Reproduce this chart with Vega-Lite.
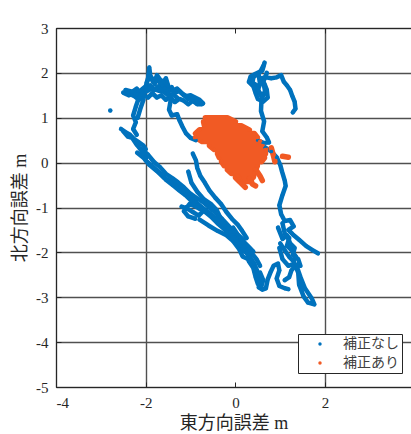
{
"$schema": "https://vega.github.io/schema/vega-lite/v6.json",
"width": 355, "height": 359,
"autosize": {"type": "none"},
"padding": {"left": 56, "top": 28, "right": 0, "bottom": 47},
"background": "white",
"config": {
 "view": {"stroke": null},
 "axis": {"labelFont": "Liberation Serif", "labelFontSize": 15, "labelColor": "#262626", "titleFont": "Liberation Serif, Noto Sans CJK JP", "titleFontSize": 18, "titleFontWeight": "normal", "titleColor": "#262626", "domainColor": "#262626", "domainWidth": 1, "tickColor": "#262626", "tickSize": -5, "labelPadding": 13, "gridColor": "#505050", "gridWidth": 1.4, "gridOpacity": 1},
 "legend": {"orient": "none", "legendX": 242, "legendY": 306, "strokeColor": "#262626", "fillColor": "white", "padding": 3, "symbolType": "circle", "symbolSize": 12, "symbolStrokeWidth": 0, "labelFont": "Noto Sans CJK JP", "labelFontSize": 14, "labelColor": "#404040", "labelOffset": 16, "symbolOffset": 12, "rowPadding": 5, "labelLimit": 200, "cornerRadius": 0}
},
"data": {"values": [
{"k":"補正なし","g":"b1","x":-2.50,"y":1.56},{"k":"補正なし","g":"b1","x":-2.38,"y":1.50},{"k":"補正なし","g":"b1","x":-2.25,"y":1.55},{"k":"補正なし","g":"b1","x":-2.12,"y":1.60},{"k":"補正なし","g":"b1","x":-2.00,"y":1.70},{"k":"補正なし","g":"b1","x":-1.95,"y":1.85},{"k":"補正なし","g":"b1","x":-1.92,"y":2.12},{"k":"補正なし","g":"b1","x":-1.90,"y":1.95},{"k":"補正なし","g":"b1","x":-1.84,"y":1.80},{"k":"補正なし","g":"b1","x":-1.78,"y":1.88},{"k":"補正なし","g":"b1","x":-1.70,"y":1.80},{"k":"補正なし","g":"b1","x":-1.62,"y":1.70},{"k":"補正なし","g":"b1","x":-1.55,"y":1.78},{"k":"補正なし","g":"b1","x":-1.48,"y":1.62},{"k":"補正なし","g":"b1","x":-1.40,"y":1.60},{"k":"補正なし","g":"b1","x":-1.30,"y":1.65},{"k":"補正なし","g":"b1","x":-1.20,"y":1.55},{"k":"補正なし","g":"b1","x":-1.10,"y":1.48},{"k":"補正なし","g":"b1","x":-1.00,"y":1.50},{"k":"補正なし","g":"b1","x":-0.90,"y":1.45},{"k":"補正なし","g":"b1","x":-0.80,"y":1.40},{"k":"補正なし","g":"b1","x":-0.72,"y":1.32},
{"k":"補正なし","g":"b2","x":-0.75,"y":1.30},{"k":"補正なし","g":"b2","x":-0.85,"y":1.30},{"k":"補正なし","g":"b2","x":-0.95,"y":1.38},{"k":"補正なし","g":"b2","x":-1.05,"y":1.30},{"k":"補正なし","g":"b2","x":-1.15,"y":1.38},{"k":"補正なし","g":"b2","x":-1.25,"y":1.42},{"k":"補正なし","g":"b2","x":-1.35,"y":1.35},{"k":"補正なし","g":"b2","x":-1.45,"y":1.45},{"k":"補正なし","g":"b2","x":-1.55,"y":1.40},{"k":"補正なし","g":"b2","x":-1.65,"y":1.50},{"k":"補正なし","g":"b2","x":-1.75,"y":1.45},{"k":"補正なし","g":"b2","x":-1.85,"y":1.55},{"k":"補正なし","g":"b2","x":-1.95,"y":1.45},{"k":"補正なし","g":"b2","x":-2.05,"y":1.50},{"k":"補正なし","g":"b2","x":-2.15,"y":1.40},{"k":"補正なし","g":"b2","x":-2.25,"y":1.48},{"k":"補正なし","g":"b2","x":-2.40,"y":1.55},
{"k":"補正なし","g":"b3","x":-2.20,"y":1.52},{"k":"補正なし","g":"b3","x":-2.00,"y":1.58},{"k":"補正なし","g":"b3","x":-1.85,"y":1.65},{"k":"補正なし","g":"b3","x":-1.70,"y":1.60},{"k":"補正なし","g":"b3","x":-1.60,"y":1.58},{"k":"補正なし","g":"b3","x":-1.50,"y":1.50},{"k":"補正なし","g":"b3","x":-1.40,"y":1.52},{"k":"補正なし","g":"b3","x":-1.30,"y":1.45},
{"k":"補正なし","g":"b4","x":-2.15,"y":1.45},{"k":"補正なし","g":"b4","x":-2.22,"y":1.25},{"k":"補正なし","g":"b4","x":-2.28,"y":1.05},{"k":"補正なし","g":"b4","x":-2.22,"y":0.90},{"k":"補正なし","g":"b4","x":-2.28,"y":0.75},{"k":"補正なし","g":"b4","x":-2.20,"y":0.62},
{"k":"補正なし","g":"b5","x":-2.05,"y":1.40},{"k":"補正なし","g":"b5","x":-2.12,"y":1.20},{"k":"補正なし","g":"b5","x":-2.18,"y":1.00},
{"k":"補正なし","g":"b6","x":-1.45,"y":1.35},{"k":"補正なし","g":"b6","x":-1.48,"y":1.18},{"k":"補正なし","g":"b6","x":-1.42,"y":1.05},{"k":"補正なし","g":"b6","x":-1.30,"y":1.08},{"k":"補正なし","g":"b6","x":-1.25,"y":0.95},{"k":"補正なし","g":"b6","x":-1.18,"y":0.80},{"k":"補正なし","g":"b6","x":-1.10,"y":0.65},{"k":"補正なし","g":"b6","x":-1.00,"y":0.55},{"k":"補正なし","g":"b6","x":-0.88,"y":0.50},
{"k":"補正なし","g":"b7","x":-2.55,"y":0.75},{"k":"補正なし","g":"b7","x":-2.45,"y":0.68},{"k":"補正なし","g":"b7","x":-2.35,"y":0.62},{"k":"補正なし","g":"b7","x":-2.25,"y":0.52},{"k":"補正なし","g":"b7","x":-2.15,"y":0.45},{"k":"補正なし","g":"b7","x":-2.05,"y":0.38},{"k":"補正なし","g":"b7","x":-2.00,"y":0.30},
{"k":"補正なし","g":"b8","x":-2.19,"y":0.22},{"k":"補正なし","g":"b8","x":-2.05,"y":0.11},{"k":"補正なし","g":"b8","x":-1.92,"y":-0.05},{"k":"補正なし","g":"b8","x":-1.76,"y":-0.18},{"k":"補正なし","g":"b8","x":-1.60,"y":-0.33},{"k":"補正なし","g":"b8","x":-1.45,"y":-0.42},{"k":"補正なし","g":"b8","x":-1.30,"y":-0.52},{"k":"補正なし","g":"b8","x":-1.15,"y":-0.62},{"k":"補正なし","g":"b8","x":-1.00,"y":-0.75},{"k":"補正なし","g":"b8","x":-0.88,"y":-0.88},{"k":"補正なし","g":"b8","x":-0.74,"y":-1.00},{"k":"補正なし","g":"b8","x":-0.58,"y":-1.12},{"k":"補正なし","g":"b8","x":-0.42,"y":-1.25},{"k":"補正なし","g":"b8","x":-0.27,"y":-1.38},{"k":"補正なし","g":"b8","x":-0.12,"y":-1.55},{"k":"補正なし","g":"b8","x":0.04,"y":-1.70},{"k":"補正なし","g":"b8","x":0.20,"y":-1.86},{"k":"補正なし","g":"b8","x":0.35,"y":-2.00},{"k":"補正なし","g":"b8","x":0.47,"y":-2.15},{"k":"補正なし","g":"b8","x":0.55,"y":-2.30},
{"k":"補正なし","g":"b9","x":-2.10,"y":0.30},{"k":"補正なし","g":"b9","x":-1.95,"y":0.18},{"k":"補正なし","g":"b9","x":-1.82,"y":0.02},{"k":"補正なし","g":"b9","x":-1.68,"y":-0.10},{"k":"補正なし","g":"b9","x":-1.55,"y":-0.25},{"k":"補正なし","g":"b9","x":-1.40,"y":-0.35},{"k":"補正なし","g":"b9","x":-1.28,"y":-0.44},{"k":"補正なし","g":"b9","x":-1.15,"y":-0.55},{"k":"補正なし","g":"b9","x":-1.02,"y":-0.68},{"k":"補正なし","g":"b9","x":-0.88,"y":-0.78},{"k":"補正なし","g":"b9","x":-0.72,"y":-0.88},{"k":"補正なし","g":"b9","x":-0.58,"y":-1.00},{"k":"補正なし","g":"b9","x":-0.44,"y":-1.12},{"k":"補正なし","g":"b9","x":-0.30,"y":-1.25},{"k":"補正なし","g":"b9","x":-0.16,"y":-1.40},{"k":"補正なし","g":"b9","x":-0.02,"y":-1.55},{"k":"補正なし","g":"b9","x":0.12,"y":-1.70},{"k":"補正なし","g":"b9","x":0.27,"y":-1.85},{"k":"補正なし","g":"b9","x":0.40,"y":-1.98},
{"k":"補正なし","g":"b10","x":-0.95,"y":0.20},{"k":"補正なし","g":"b10","x":-0.88,"y":0.05},{"k":"補正なし","g":"b10","x":-0.85,"y":-0.12},{"k":"補正なし","g":"b10","x":-0.78,"y":-0.30},{"k":"補正なし","g":"b10","x":-0.68,"y":-0.45},{"k":"補正なし","g":"b10","x":-0.58,"y":-0.62},{"k":"補正なし","g":"b10","x":-0.45,"y":-0.78},{"k":"補正なし","g":"b10","x":-0.32,"y":-0.92},{"k":"補正なし","g":"b10","x":-0.20,"y":-1.10},{"k":"補正なし","g":"b10","x":-0.08,"y":-1.25},{"k":"補正なし","g":"b10","x":0.05,"y":-1.38},{"k":"補正なし","g":"b10","x":0.15,"y":-1.52},{"k":"補正なし","g":"b10","x":0.25,"y":-1.68},
{"k":"補正なし","g":"b11","x":-1.05,"y":-0.20},{"k":"補正なし","g":"b11","x":-0.98,"y":-0.45},{"k":"補正なし","g":"b11","x":-0.85,"y":-0.65},{"k":"補正なし","g":"b11","x":-0.70,"y":-0.82},{"k":"補正なし","g":"b11","x":-0.55,"y":-0.92},{"k":"補正なし","g":"b11","x":-0.42,"y":-1.05},{"k":"補正なし","g":"b11","x":-0.35,"y":-1.20},
{"k":"補正なし","g":"b12","x":-1.20,"y":-0.98},{"k":"補正なし","g":"b12","x":-1.08,"y":-1.02},{"k":"補正なし","g":"b12","x":-0.95,"y":-1.10},{"k":"補正なし","g":"b12","x":-0.82,"y":-1.18},{"k":"補正なし","g":"b12","x":-0.72,"y":-1.08},{"k":"補正なし","g":"b12","x":-0.88,"y":-0.98},{"k":"補正なし","g":"b12","x":-1.02,"y":-0.92},{"k":"補正なし","g":"b12","x":-1.15,"y":-1.08},{"k":"補正なし","g":"b12","x":-1.05,"y":-1.20},{"k":"補正なし","g":"b12","x":-0.90,"y":-1.25},
{"k":"補正なし","g":"b13","x":-0.80,"y":-1.27},{"k":"補正なし","g":"b13","x":-0.60,"y":-1.40},{"k":"補正なし","g":"b13","x":-0.40,"y":-1.52},{"k":"補正なし","g":"b13","x":-0.20,"y":-1.62},{"k":"補正なし","g":"b13","x":-0.05,"y":-1.75},{"k":"補正なし","g":"b13","x":0.08,"y":-1.92},{"k":"補正なし","g":"b13","x":0.16,"y":-2.09},{"k":"補正なし","g":"b13","x":0.28,"y":-2.15},{"k":"補正なし","g":"b13","x":0.38,"y":-2.25},{"k":"補正なし","g":"b13","x":0.47,"y":-2.40},{"k":"補正なし","g":"b13","x":0.55,"y":-2.60},{"k":"補正なし","g":"b13","x":0.52,"y":-2.78},{"k":"補正なし","g":"b13","x":0.60,"y":-2.83},{"k":"補正なし","g":"b13","x":0.68,"y":-2.80},{"k":"補正なし","g":"b13","x":0.72,"y":-2.60},{"k":"補正なし","g":"b13","x":0.78,"y":-2.45},{"k":"補正なし","g":"b13","x":0.85,"y":-2.30},{"k":"補正なし","g":"b13","x":0.95,"y":-2.25},{"k":"補正なし","g":"b13","x":0.98,"y":-2.40},{"k":"補正なし","g":"b13","x":0.92,"y":-2.58},{"k":"補正なし","g":"b13","x":0.98,"y":-2.75},{"k":"補正なし","g":"b13","x":1.10,"y":-2.80},{"k":"補正なし","g":"b13","x":1.18,"y":-2.82},
{"k":"補正なし","g":"b14","x":0.98,"y":-1.90},{"k":"補正なし","g":"b14","x":1.05,"y":-2.15},{"k":"補正なし","g":"b14","x":1.18,"y":-2.30},{"k":"補正なし","g":"b14","x":1.32,"y":-2.25},{"k":"補正なし","g":"b14","x":1.40,"y":-2.45},{"k":"補正なし","g":"b14","x":1.42,"y":-2.72},{"k":"補正なし","g":"b14","x":1.52,"y":-2.98},{"k":"補正なし","g":"b14","x":1.62,"y":-3.12},{"k":"補正なし","g":"b14","x":1.76,"y":-3.16},{"k":"補正なし","g":"b14","x":1.70,"y":-3.02},{"k":"補正なし","g":"b14","x":1.55,"y":-2.80},{"k":"補正なし","g":"b14","x":1.45,"y":-2.55},{"k":"補正なし","g":"b14","x":1.38,"y":-2.35},
{"k":"補正なし","g":"b15","x":0.58,"y":1.36},{"k":"補正なし","g":"b15","x":0.57,"y":1.15},{"k":"補正なし","g":"b15","x":0.64,"y":0.92},{"k":"補正なし","g":"b15","x":0.60,"y":0.70},{"k":"補正なし","g":"b15","x":0.70,"y":0.56},{"k":"補正なし","g":"b15","x":0.75,"y":0.45},{"k":"補正なし","g":"b15","x":0.62,"y":0.44},{"k":"補正なし","g":"b15","x":0.50,"y":0.50},{"k":"補正なし","g":"b15","x":0.66,"y":0.34},{"k":"補正なし","g":"b15","x":0.80,"y":0.25},{"k":"補正なし","g":"b15","x":0.92,"y":0.12},{"k":"補正なし","g":"b15","x":1.00,"y":-0.05},{"k":"補正なし","g":"b15","x":1.04,"y":-0.20},{"k":"補正なし","g":"b15","x":1.10,"y":-0.40},{"k":"補正なし","g":"b15","x":1.12,"y":-0.52},{"k":"補正なし","g":"b15","x":1.05,"y":-0.72},{"k":"補正なし","g":"b15","x":0.98,"y":-0.95},{"k":"補正なし","g":"b15","x":1.02,"y":-1.15},{"k":"補正なし","g":"b15","x":1.10,"y":-1.30},{"k":"補正なし","g":"b15","x":1.22,"y":-1.28},{"k":"補正なし","g":"b15","x":1.30,"y":-1.42},{"k":"補正なし","g":"b15","x":1.18,"y":-1.50},{"k":"補正なし","g":"b15","x":1.28,"y":-1.60},{"k":"補正なし","g":"b15","x":1.42,"y":-1.72},{"k":"補正なし","g":"b15","x":1.58,"y":-1.86},{"k":"補正なし","g":"b15","x":1.72,"y":-1.95},{"k":"補正なし","g":"b15","x":1.84,"y":-2.02},
{"k":"補正なし","g":"b16","x":0.65,"y":2.23},{"k":"補正なし","g":"b16","x":0.60,"y":2.05},{"k":"補正なし","g":"b16","x":0.45,"y":1.98},{"k":"補正なし","g":"b16","x":0.34,"y":1.92},{"k":"補正なし","g":"b16","x":0.30,"y":1.80},{"k":"補正なし","g":"b16","x":0.40,"y":1.70},{"k":"補正なし","g":"b16","x":0.45,"y":1.55},{"k":"補正なし","g":"b16","x":0.50,"y":1.42},{"k":"補正なし","g":"b16","x":0.62,"y":1.36},{"k":"補正なし","g":"b16","x":0.72,"y":1.45},{"k":"補正なし","g":"b16","x":0.70,"y":1.62},{"k":"補正なし","g":"b16","x":0.65,"y":1.75},{"k":"補正なし","g":"b16","x":0.58,"y":1.88},{"k":"補正なし","g":"b16","x":0.68,"y":1.90},{"k":"補正なし","g":"b16","x":0.80,"y":1.88},{"k":"補正なし","g":"b16","x":0.92,"y":1.90},{"k":"補正なし","g":"b16","x":1.02,"y":1.95},{"k":"補正なし","g":"b16","x":1.08,"y":1.80},{"k":"補正なし","g":"b16","x":1.15,"y":1.72},{"k":"補正なし","g":"b16","x":1.22,"y":1.62},{"k":"補正なし","g":"b16","x":1.27,"y":1.48},{"k":"補正なし","g":"b16","x":1.32,"y":1.36},{"k":"補正なし","g":"b16","x":1.34,"y":1.20},{"k":"補正なし","g":"b16","x":1.28,"y":1.12},
{"k":"補正なし","g":"b17","x":0.52,"y":1.95},{"k":"補正なし","g":"b17","x":0.55,"y":1.75},{"k":"補正なし","g":"b17","x":0.50,"y":1.62},{"k":"補正なし","g":"b17","x":0.58,"y":1.50},{"k":"補正なし","g":"b17","x":0.68,"y":1.55},
{"k":"補正なし","g":"b18","x":1.05,"y":-1.35},{"k":"補正なし","g":"b18","x":1.10,"y":-1.58},{"k":"補正なし","g":"b18","x":1.20,"y":-1.68},{"k":"補正なし","g":"b18","x":1.15,"y":-1.85},{"k":"補正なし","g":"b18","x":1.25,"y":-1.95},{"k":"補正なし","g":"b18","x":1.35,"y":-2.10},{"k":"補正なし","g":"b18","x":1.30,"y":-2.20},{"k":"補正なし","g":"b18","x":1.20,"y":-2.10},{"k":"補正なし","g":"b18","x":1.10,"y":-1.95},{"k":"補正なし","g":"b18","x":1.00,"y":-1.80},
{"k":"補正なし","g":"b19","x":-0.05,"y":-1.45},{"k":"補正なし","g":"b19","x":0.05,"y":-1.60},{"k":"補正なし","g":"b19","x":0.18,"y":-1.72},{"k":"補正なし","g":"b19","x":0.10,"y":-1.85},{"k":"補正なし","g":"b19","x":0.20,"y":-1.98},{"k":"補正なし","g":"b19","x":0.30,"y":-2.05},
{"k":"補正なし","g":"b20","x":-2.79,"y":1.16},
{"k":"補正なし","g":"b21","x":-2.45,"y":1.62},{"k":"補正なし","g":"b21","x":-2.30,"y":1.58},{"k":"補正なし","g":"b21","x":-2.20,"y":1.65},{"k":"補正なし","g":"b21","x":-2.10,"y":1.52},{"k":"補正なし","g":"b21","x":-2.00,"y":1.62},{"k":"補正なし","g":"b21","x":-1.90,"y":1.72},{"k":"補正なし","g":"b21","x":-1.80,"y":1.62},{"k":"補正なし","g":"b21","x":-1.72,"y":1.70},{"k":"補正なし","g":"b21","x":-1.65,"y":1.60},{"k":"補正なし","g":"b21","x":-1.58,"y":1.66},{"k":"補正なし","g":"b21","x":-1.50,"y":1.56},{"k":"補正なし","g":"b21","x":-1.42,"y":1.68},{"k":"補正なし","g":"b21","x":-1.35,"y":1.55},{"k":"補正なし","g":"b21","x":-1.25,"y":1.60},{"k":"補正なし","g":"b21","x":-1.15,"y":1.50},{"k":"補正なし","g":"b21","x":-1.05,"y":1.42},{"k":"補正なし","g":"b21","x":-0.95,"y":1.44},{"k":"補正なし","g":"b21","x":-0.85,"y":1.36},
{"k":"補正なし","g":"b22","x":-1.98,"y":1.78},{"k":"補正なし","g":"b22","x":-1.92,"y":1.95},{"k":"補正なし","g":"b22","x":-1.86,"y":1.88},{"k":"補正なし","g":"b22","x":-1.80,"y":1.75},{"k":"補正なし","g":"b22","x":-1.75,"y":1.95},{"k":"補正なし","g":"b22","x":-1.68,"y":1.85},{"k":"補正なし","g":"b22","x":-1.60,"y":1.80},{"k":"補正なし","g":"b22","x":-1.55,"y":1.88},{"k":"補正なし","g":"b22","x":-1.50,"y":1.72},
{"k":"補正なし","g":"b23","x":-2.50,"y":0.70},{"k":"補正なし","g":"b23","x":-2.40,"y":0.58},{"k":"補正なし","g":"b23","x":-2.30,"y":0.55},{"k":"補正なし","g":"b23","x":-2.20,"y":0.40},{"k":"補正なし","g":"b23","x":-2.12,"y":0.30},{"k":"補正なし","g":"b23","x":-2.05,"y":0.20},{"k":"補正なし","g":"b23","x":-1.98,"y":0.12},
{"k":"補正なし","g":"b24","x":-2.00,"y":0.05},{"k":"補正なし","g":"b24","x":-1.85,"y":-0.08},{"k":"補正なし","g":"b24","x":-1.70,"y":-0.22},{"k":"補正なし","g":"b24","x":-1.55,"y":-0.38},{"k":"補正なし","g":"b24","x":-1.40,"y":-0.50},{"k":"補正なし","g":"b24","x":-1.25,"y":-0.62},{"k":"補正なし","g":"b24","x":-1.12,"y":-0.72},{"k":"補正なし","g":"b24","x":-0.98,"y":-0.85},{"k":"補正なし","g":"b24","x":-0.85,"y":-0.95},{"k":"補正なし","g":"b24","x":-0.70,"y":-1.08},{"k":"補正なし","g":"b24","x":-0.55,"y":-1.20},{"k":"補正なし","g":"b24","x":-0.40,"y":-1.35},{"k":"補正なし","g":"b24","x":-0.25,"y":-1.48},{"k":"補正なし","g":"b24","x":-0.10,"y":-1.62},{"k":"補正なし","g":"b24","x":0.05,"y":-1.80},{"k":"補正なし","g":"b24","x":0.20,"y":-1.95},{"k":"補正なし","g":"b24","x":0.32,"y":-2.10},{"k":"補正なし","g":"b24","x":0.42,"y":-2.25},{"k":"補正なし","g":"b24","x":0.50,"y":-2.45},
{"k":"補正なし","g":"b25","x":0.95,"y":-1.45},{"k":"補正なし","g":"b25","x":1.05,"y":-1.70},{"k":"補正なし","g":"b25","x":1.15,"y":-1.62},{"k":"補正なし","g":"b25","x":1.22,"y":-1.80},{"k":"補正なし","g":"b25","x":1.32,"y":-1.90},{"k":"補正なし","g":"b25","x":1.28,"y":-2.05},{"k":"補正なし","g":"b25","x":1.40,"y":-2.15},{"k":"補正なし","g":"b25","x":1.45,"y":-2.30},{"k":"補正なし","g":"b25","x":1.35,"y":-2.28},{"k":"補正なし","g":"b25","x":1.25,"y":-2.40},{"k":"補正なし","g":"b25","x":1.20,"y":-2.55},{"k":"補正なし","g":"b25","x":1.10,"y":-2.62},
{"k":"補正なし","g":"b26","x":0.30,"y":-2.20},{"k":"補正なし","g":"b26","x":0.40,"y":-2.35},{"k":"補正なし","g":"b26","x":0.45,"y":-2.55},{"k":"補正なし","g":"b26","x":0.50,"y":-2.70},{"k":"補正なし","g":"b26","x":0.58,"y":-2.75},{"k":"補正なし","g":"b26","x":0.62,"y":-2.62},{"k":"補正なし","g":"b26","x":0.55,"y":-2.45},
{"k":"補正なし","g":"b27","x":0.62,"y":2.15},{"k":"補正なし","g":"b27","x":0.55,"y":2.02},{"k":"補正なし","g":"b27","x":0.40,"y":1.90},{"k":"補正なし","g":"b27","x":0.38,"y":1.78},{"k":"補正なし","g":"b27","x":0.48,"y":1.72},{"k":"補正なし","g":"b27","x":0.52,"y":1.58},{"k":"補正なし","g":"b27","x":0.60,"y":1.45},{"k":"補正なし","g":"b27","x":0.66,"y":1.60},{"k":"補正なし","g":"b27","x":0.62,"y":1.80},{"k":"補正なし","g":"b27","x":0.70,"y":2.00},
{"k":"補正あり","g":"o1","x":-0.67,"y":1.00},{"k":"補正あり","g":"o1","x":-0.18,"y":1.00},{"k":"補正あり","g":"o1","x":0.00,"y":0.91},{"k":"補正あり","g":"o1","x":-0.71,"y":0.91},{"k":"補正あり","g":"o1","x":-0.69,"y":0.82},{"k":"補正あり","g":"o1","x":0.13,"y":0.82},{"k":"補正あり","g":"o1","x":0.31,"y":0.73},{"k":"補正あり","g":"o1","x":-0.80,"y":0.73},{"k":"補正あり","g":"o1","x":-0.89,"y":0.65},{"k":"補正あり","g":"o1","x":0.42,"y":0.65},{"k":"補正あり","g":"o1","x":0.49,"y":0.56},{"k":"補正あり","g":"o1","x":-0.89,"y":0.56},{"k":"補正あり","g":"o1","x":-0.74,"y":0.47},{"k":"補正あり","g":"o1","x":0.54,"y":0.47},{"k":"補正あり","g":"o1","x":0.60,"y":0.38},{"k":"補正あり","g":"o1","x":-0.58,"y":0.38},{"k":"補正あり","g":"o1","x":-0.47,"y":0.29},{"k":"補正あり","g":"o1","x":0.67,"y":0.29},{"k":"補正あり","g":"o1","x":0.67,"y":0.20},{"k":"補正あり","g":"o1","x":-0.40,"y":0.20},{"k":"補正あり","g":"o1","x":-0.36,"y":0.11},{"k":"補正あり","g":"o1","x":0.65,"y":0.11},{"k":"補正あり","g":"o1","x":0.58,"y":0.02},{"k":"補正あり","g":"o1","x":-0.31,"y":0.02},{"k":"補正あり","g":"o1","x":-0.25,"y":-0.07},{"k":"補正あり","g":"o1","x":0.49,"y":-0.07},{"k":"補正あり","g":"o1","x":0.45,"y":-0.16},{"k":"補正あり","g":"o1","x":-0.18,"y":-0.16},{"k":"補正あり","g":"o1","x":-0.09,"y":-0.24},{"k":"補正あり","g":"o1","x":0.42,"y":-0.24},{"k":"補正あり","g":"o1","x":0.40,"y":-0.33},{"k":"補正あり","g":"o1","x":0.00,"y":-0.33},{"k":"補正あり","g":"o1","x":0.09,"y":-0.42},{"k":"補正あり","g":"o1","x":0.36,"y":-0.42},
{"k":"補正あり","g":"o2","x":0.05,"y":-0.30},{"k":"補正あり","g":"o2","x":0.12,"y":-0.45},{"k":"補正あり","g":"o2","x":0.22,"y":-0.55},
{"k":"補正あり","g":"o3","x":0.30,"y":-0.35},{"k":"補正あり","g":"o3","x":0.38,"y":-0.48},{"k":"補正あり","g":"o3","x":0.45,"y":-0.52},
{"k":"補正あり","g":"o4","x":0.45,"y":-0.15},{"k":"補正あり","g":"o4","x":0.55,"y":-0.30},{"k":"補正あり","g":"o4","x":0.60,"y":-0.40},
{"k":"補正あり","g":"o5","x":0.80,"y":0.33},{"k":"補正あり","g":"o5","x":0.85,"y":0.15},{"k":"補正あり","g":"o5","x":0.88,"y":0.02},
{"k":"補正あり","g":"o6","x":1.05,"y":0.14},{"k":"補正あり","g":"o6","x":1.18,"y":0.12}
]},
"layer": [
 {"transform": [{"filter": "datum.k === '補正なし'"}],
  "mark": {"type": "line", "color": "#0072BD", "strokeWidth": 4.5, "strokeCap": "round", "strokeJoin": "round"},
  "encoding": {
   "x": {"field": "x", "type": "quantitative", "scale": {"domain": [-4, 3.915], "nice": false, "zero": false}, "axis": null},
   "y": {"field": "y", "type": "quantitative", "scale": {"domain": [-5, 3], "nice": false, "zero": false}, "axis": {"values": [-5,-4,-3,-2,-1,0,1,2,3], "title": "北方向誤差 m", "labelExpr": "'' + datum.value", "grid": true, "titlePadding": 6}},
   "detail": {"field": "g"},
   "order": {"value": null}
  }},
 {"transform": [{"filter": "datum.k === '補正あり'"}],
  "mark": {"type": "line", "color": "#F15A24", "strokeWidth": 5.5, "strokeCap": "round", "strokeJoin": "round"},
  "encoding": {
   "x": {"field": "x", "type": "quantitative", "scale": {"domain": [-4, 3.915], "nice": false, "zero": false}, "axis": {"orient": "top", "values": [-4,-2,0,2], "labels": false, "grid": false, "title": null}},
   "y": {"field": "y", "type": "quantitative", "scale": {"domain": [-5, 3], "nice": false, "zero": false}, "axis": {"values": [-5,-4,-3,-2,-1,0,1,2,3], "title": "北方向誤差 m", "labelExpr": "'' + datum.value", "grid": true, "titlePadding": 6}},
   "detail": {"field": "g"},
   "order": {"value": null}
  }},
 {"mark": {"type": "point", "filled": true, "size": 14, "opacity": 1},
  "encoding": {
   "x": {"field": "x", "type": "quantitative", "scale": {"domain": [-4, 3.915], "nice": false, "zero": false}, "axis": {"values": [-4,-2,0,2], "title": "東方向誤差 m", "labelExpr": "'' + datum.value", "grid": true, "titlePadding": 4, "gridColor": {"condition": {"test": "datum.value === 0", "value": "rgba(0,0,0,0)"}, "value": "#505050"}}},
   "y": {"field": "y", "type": "quantitative", "scale": {"domain": [-5, 3], "nice": false, "zero": false}, "axis": {"values": [-5,-4,-3,-2,-1,0,1,2,3], "title": "北方向誤差 m", "labelExpr": "'' + datum.value", "grid": true, "titlePadding": 6}},
   "color": {"field": "k", "type": "nominal", "scale": {"domain": ["補正なし", "補正あり"], "range": ["#0072BD", "#F15A24"]}, "legend": {"title": null}}
  }}
],
"resolve": {"axis": {"x": "independent"}}
}
